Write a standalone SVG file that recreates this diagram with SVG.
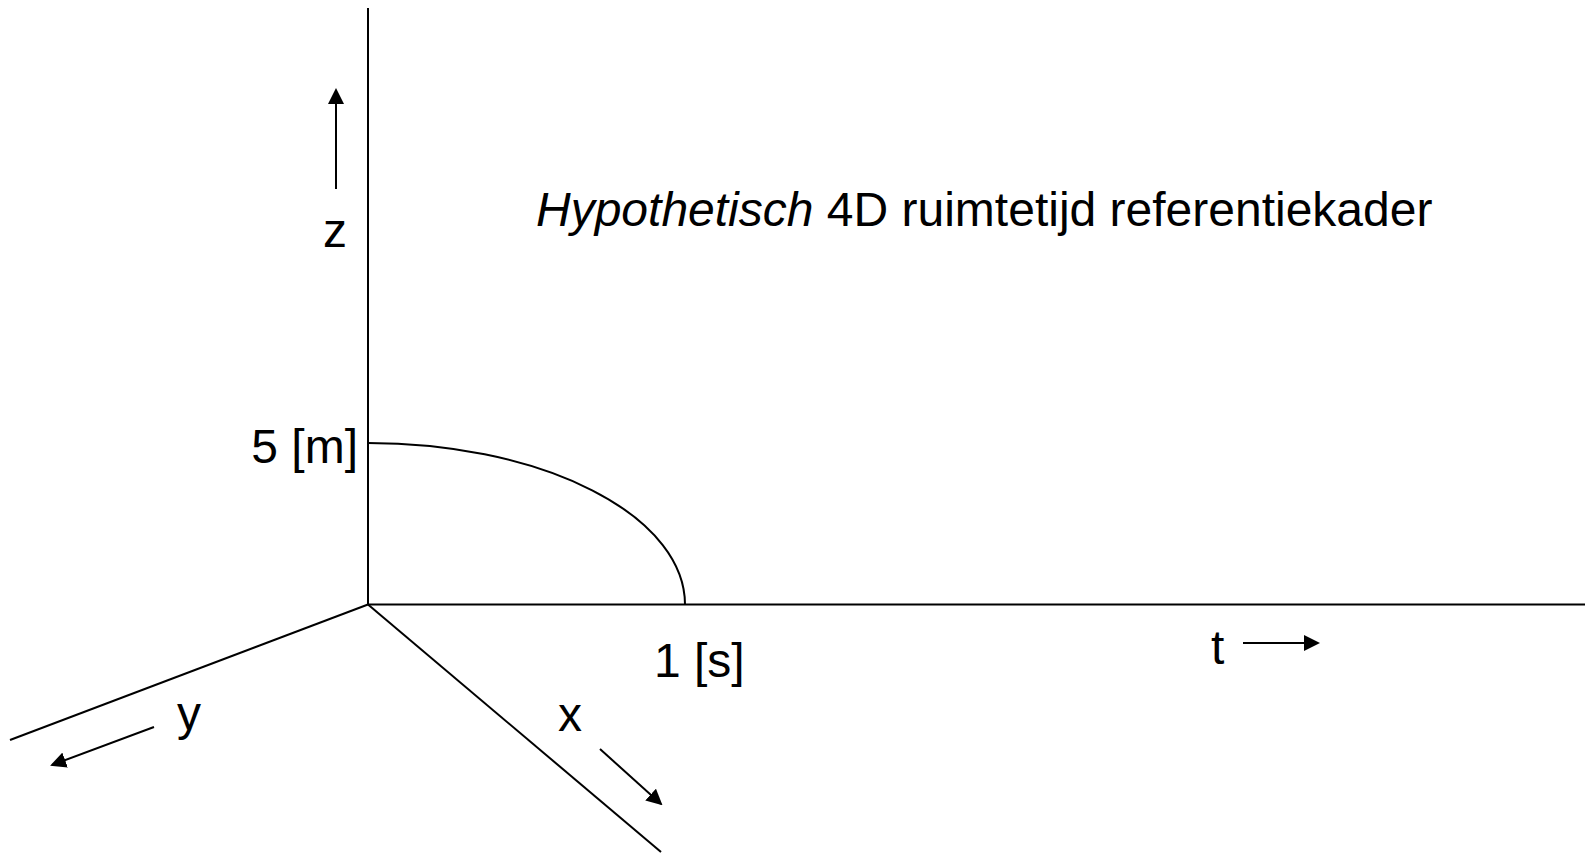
<svg xmlns="http://www.w3.org/2000/svg" width="1585" height="855" viewBox="0 0 1585 855">
<style>
.ax{stroke:#000;stroke-width:2;fill:none}
.ar{stroke:#000;stroke-width:2;fill:none;marker-end:url(#ah)}
.t{font-family:"Liberation Sans",Arial,sans-serif;font-size:48px;fill:#000}
</style>
<defs>
<marker id="ah" markerWidth="8" markerHeight="8" refX="7" refY="4" orient="auto" markerUnits="strokeWidth">
<path d="M0,0 L8,4 L0,8 Z" fill="#000"/>
</marker>
</defs>
<rect width="1585" height="855" fill="#fff"/>
<g id="connectors">
<line class="ax" x1="368" y1="8" x2="368" y2="604.5"/>
<line class="ax" x1="368" y1="604.5" x2="1585" y2="604.5"/>
<line class="ax" x1="368" y1="604.5" x2="10" y2="740"/>
<line class="ax" x1="368" y1="604.5" x2="661" y2="852"/>
<path class="ax" d="M368,443 A317,161.5 0 0 1 685,604.5"/>
<line class="ar" x1="336" y1="189" x2="336" y2="90"/>
<line class="ar" x1="1243" y1="643" x2="1318" y2="643"/>
<line class="ar" x1="154" y1="727" x2="52" y2="765"/>
<line class="ar" x1="600" y1="749" x2="661" y2="804"/>
</g>
<g id="title"><text class="t" x="536" y="226"><tspan font-style="italic">Hypothetisch</tspan> 4D ruimtetijd referentiekader</text></g>
<g id="label-z"><text class="t" x="323" y="247">z</text></g>
<g id="label-5m"><text class="t" x="358" y="463" text-anchor="end">5 [m]</text></g>
<g id="label-1s"><text class="t" x="654" y="677">1 [s]</text></g>
<g id="label-t"><text class="t" x="1211" y="664">t</text></g>
<g id="label-y"><text class="t" x="177" y="730">y</text></g>
<g id="label-x"><text class="t" x="558" y="731">x</text></g>
</svg>
